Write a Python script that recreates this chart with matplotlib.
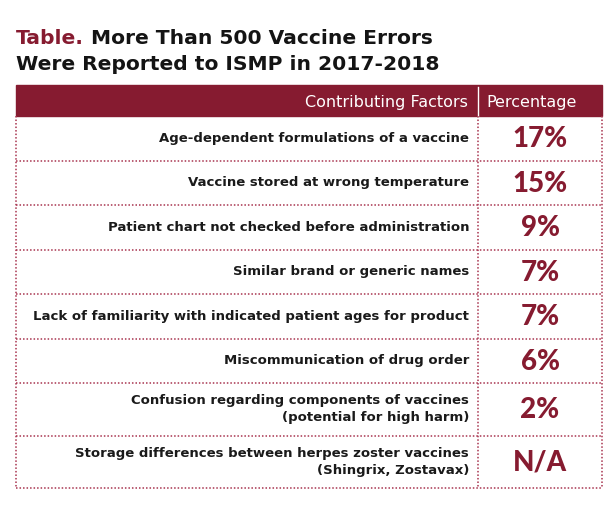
import matplotlib.pyplot as plt
from matplotlib.patches import Rectangle

# Table content
factors = [
    'Age-dependent formulations of a vaccine',
    'Vaccine stored at wrong temperature',
    'Patient chart not checked before administration',
    'Similar brand or generic names',
    'Lack of familiarity with indicated patient ages for product',
    'Miscommunication of drug order',
    'Confusion regarding components of vaccines\n(potential for high harm)',
    'Storage differences between herpes zoster vaccines\n(Shingrix, Zostavax)',
]
percentages = ['17%', '15%', '9%', '7%', '7%', '6%', '2%', 'N/A']
headers = ['Contributing Factors', 'Percentage']

maroon = '#861b30'
dot_color = '#a8344f'
font = 'DejaVu Sans'

fig = plt.figure(figsize=(6.15, 5.05), dpi=100)
ax = fig.add_axes([0, 0, 1, 1])
ax.set_xlim(0, 615)
ax.set_ylim(505, 0)
ax.axis('off')

# Title
t1 = ax.text(16, 44, 'Table.', color=maroon, fontsize=14.6, fontweight='bold',
             family=font, va='baseline')
ax.annotate(' More Than 500 Vaccine Errors', xy=(1, 0), xycoords=t1,
            va='bottom', ha='left', fontsize=14.6, fontweight='bold', family=font,
            color='#141414')
ax.text(16, 70, 'Were Reported to ISMP in 2017-2018', color='#141414', fontsize=14.6,
        fontweight='bold', family=font, va='baseline')

left, mid, right = 16, 478, 602
top, head_bot = 85, 116

# Header bar
ax.add_patch(Rectangle((left, top), right - left, head_bot - top, color=maroon))
ax.plot([mid, mid], [top + 2, head_bot], color='white', lw=1)
ax.text(mid - 10, 102, headers[0], color='white', fontsize=11.5, family=font,
        ha='right', va='center')
ax.text(mid + 8, 102, headers[1], color='white', fontsize=11.5, family=font,
        ha='left', va='center')

# Rows
y = head_bot
dots = dict(color=dot_color, lw=1.1, ls=(0, (1, 1.3)))
for factor, pct in zip(factors, percentages):
    nlines = factor.count('\n') + 1
    h = 44.5 if nlines == 1 else 52.5
    cy = y + h / 2
    ax.text(mid - 9, cy, factor, ha='right', va='center', fontsize=9.5,
            family=font, fontweight='bold', color='#1a1a1a', linespacing=1.45,
            multialignment='right')
    ax.text((mid + right) / 2, cy + 1, pct, ha='center', va='center', fontsize=20,
            family='Lato', fontweight='black', color=maroon)
    y += h
    ax.plot([left, right], [y, y], **dots)

ax.plot([left, left], [head_bot, y], **dots)
ax.plot([mid, mid], [head_bot, y], **dots)
ax.plot([right, right], [head_bot, y], **dots)

fig.savefig('out.png', dpi=100)
